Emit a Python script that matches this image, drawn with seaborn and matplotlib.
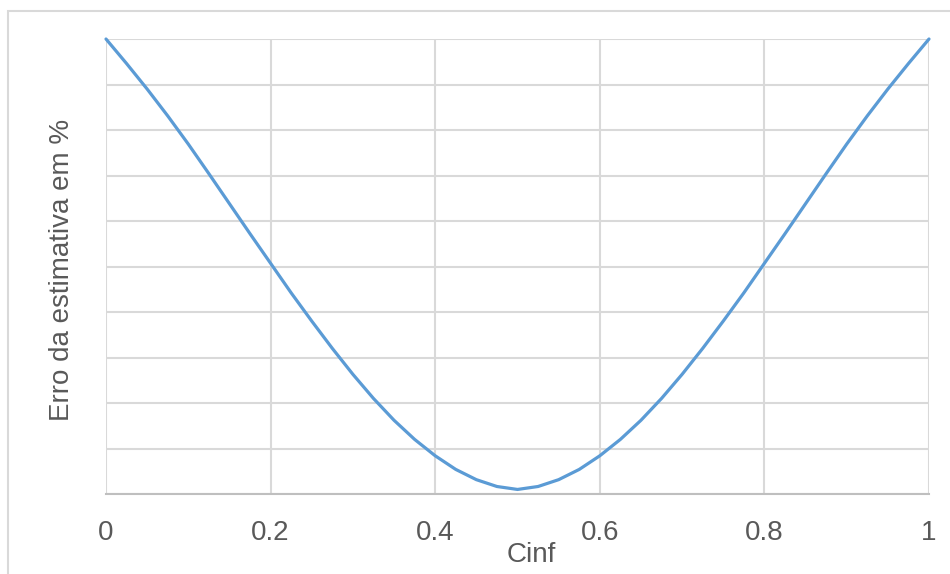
import matplotlib
matplotlib.use("Agg")
import matplotlib.pyplot as plt
import seaborn as sns
import pandas as pd
from matplotlib.patches import Rectangle

cinf = [0.0, 0.025, 0.05, 0.075, 0.10, 0.125, 0.15, 0.175, 0.20, 0.225, 0.25,
        0.275, 0.30, 0.325, 0.35, 0.375, 0.40, 0.425, 0.45, 0.475, 0.50,
        0.525, 0.55, 0.575, 0.60, 0.625, 0.65, 0.675, 0.70, 0.725, 0.75,
        0.775, 0.80, 0.825, 0.85, 0.875, 0.90, 0.925, 0.95, 0.975, 1.0]
erro = [10.0, 9.46, 8.90, 8.31, 7.69, 7.04, 6.38, 5.72, 5.07, 4.42, 3.80,
        3.20, 2.63, 2.10, 1.62, 1.20, 0.84, 0.54, 0.315, 0.165, 0.10,
        0.165, 0.315, 0.54, 0.84, 1.20, 1.62, 2.10, 2.63, 3.20, 3.80,
        4.42, 5.07, 5.72, 6.38, 7.04, 7.69, 8.31, 8.90, 9.46, 10.0]
xticks = [0, 0.2, 0.4, 0.6, 0.8, 1.0]
xtick_labels = ["0", "0.2", "0.4", "0.6", "0.8", "1"]

sns.set_style("white")
plt.rcParams['font.family'] = ['Liberation Sans', 'DejaVu Sans']

df = pd.DataFrame({"Cinf": cinf, "Erro": erro})

fig = plt.figure(figsize=(9.5, 5.74), dpi=100)
ax = fig.add_axes([106/950, 80/574, 823/950, 455/574])

# chart area border
fig.patches.append(Rectangle((8/950, -0.1), 1.2, 1 - 11/574 + 0.1,
                             transform=fig.transFigure, fill=False,
                             edgecolor="#d9d9d9", linewidth=1.5))

sns.lineplot(data=df, x="Cinf", y="Erro", ax=ax, color="#5b9bd5",
             linewidth=2.3, clip_on=False, zorder=5)

ax.set_xlim(0, 1)
ax.set_ylim(0, 10)
ax.set_xticks(xticks)
ax.set_xticklabels(xtick_labels)
ax.set_yticks(range(0, 11))
ax.set_yticklabels([])
ax.tick_params(axis="both", length=0)
ax.tick_params(axis="x", labelsize=20, labelcolor="#595959", pad=19)
ax.grid(True, color="#d9d9d9", linewidth=1.5)
ax.set_axisbelow(True)
for s in ["top", "right", "left"]:
    ax.spines[s].set_visible(False)
ax.spines["bottom"].set_color("#bfbfbf")
ax.spines["bottom"].set_linewidth(1.5)

ax.set_xlabel("Cinf", fontsize=20, color="#595959")
ax.xaxis.set_label_coords((531-106)/823, (494-555)/455)
ax.xaxis.label.set_va("center")
ax.set_ylabel("Erro da estimativa em %", fontsize=20, color="#595959")
ax.yaxis.set_label_coords((62-106)/823, (494-270)/455)
ax.yaxis.label.set_va("center")

fig.savefig("out.png", dpi=100)
